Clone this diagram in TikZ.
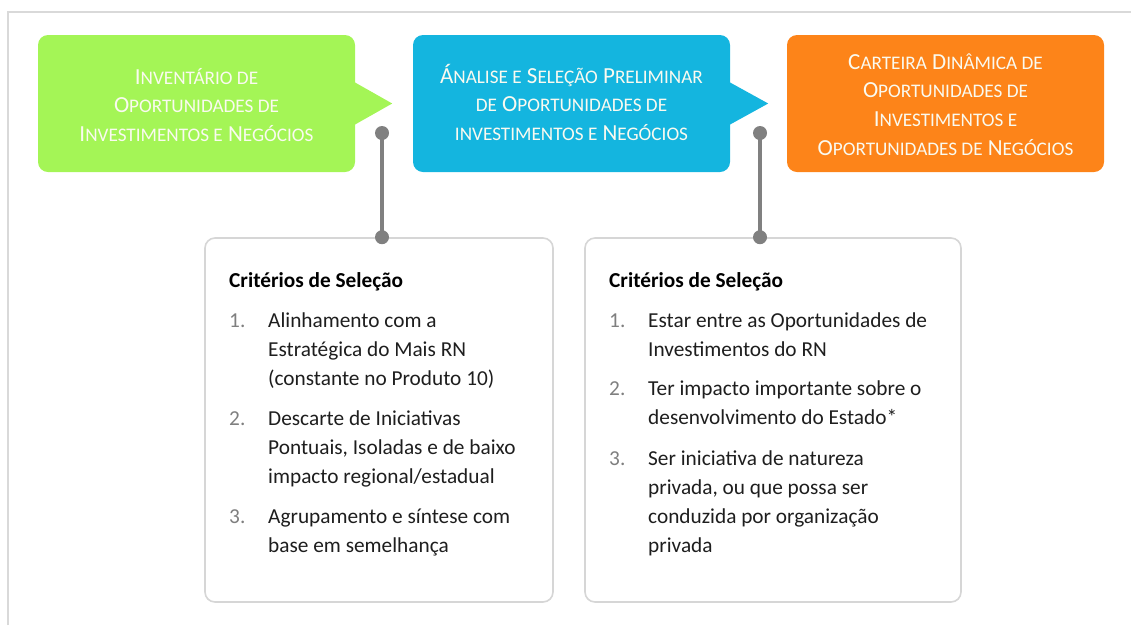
\documentclass[tikz,border=0pt]{standalone}
\usepackage{fontspec}
\setmainfont{Carlito}
\usetikzlibrary{calc}
\definecolor{cgreen}{RGB}{164,245,86}
\definecolor{cblue}{RGB}{20,181,223}
\definecolor{corange}{RGB}{253,132,25}
\definecolor{cframe}{RGB}{217,217,217}
\definecolor{cborder}{RGB}{214,214,214}
\definecolor{cdot}{RGB}{128,128,128}
\definecolor{cnum}{RGB}{127,127,127}
\definecolor{ctext}{RGB}{30,30,30}
\definecolor{ctop}{RGB}{250,250,240}
\newcommand\Sm[1]{{\fontsize{19.2}{19.2}\selectfont\MakeUppercase{#1}}}
\newcommand\Lc[1]{\begin{tabular}[t]{@{}c@{}}#1\end{tabular}}
\newcommand\Ll[1]{\begin{tabular}[t]{@{}l@{}}#1\end{tabular}}
\tikzset{
  topbox/.style={rectangle, rounded corners=10pt, minimum width=317pt, minimum height=137pt, inner sep=0pt},
  toptext/.style={anchor=base, inner sep=0pt, text=ctop, font=\fontsize{23}{28.8}\selectfont},
  critbox/.style={rectangle, rounded corners=10pt, draw=cborder, line width=1.6pt, fill=white, inner sep=0pt},
  head/.style={anchor=base west, inner sep=0pt, text=black, font=\bfseries\fontsize{21.3}{29}\selectfont},
  num/.style={anchor=base west, inner sep=0pt, text=cnum, font=\fontsize{21.3}{29}\selectfont},
  itm/.style={anchor=base west, inner sep=0pt, text=ctext, font=\fontsize{21.3}{29}\selectfont},
  dotc/.style={circle, fill=cdot, inner sep=0pt, minimum size=14pt},
  conn/.style={draw=cdot, line width=3.5pt}
}
\begin{document}
\begin{tikzpicture}[x=1pt,y=-1pt]
\useasboundingbox (0,0) rectangle (1131,625);
\draw[cframe, line width=2pt] (8,625) -- (8,12) -- (1131,12);

% top boxes
\node[topbox, fill=cgreen] (inv) at (196.5,103.5) {};
\fill[cgreen] ($(inv.east)+(-1,-21.5)$) -- ($(inv.east)+(37,0)$) -- ($(inv.east)+(-1,21.5)$) -- cycle;
\node[toptext] (invt) at (196.5,84) {\Lc{I\Sm{nventário de}\\O\Sm{portunidades de}\\I\Sm{nvestimentos e} N\Sm{egócios}}};

\node[topbox, fill=cblue] (ana) at (571.5,103.5) {};
\fill[cblue] ($(ana.east)+(-1,-21.5)$) -- ($(ana.east)+(38,0)$) -- ($(ana.east)+(-1,21.5)$) -- cycle;
\node[toptext] (anat) at (571.5,83) {\Lc{Á\Sm{nalise e} S\Sm{eleção} P\Sm{reliminar}\\\Sm{de} O\Sm{portunidades de}\\\Sm{investimentos e} N\Sm{egócios}}};

\node[topbox, fill=corange] (cart) at (945.5,103.5) {};
\node[toptext] (cartt) at (945.5,69) {\Lc{C\Sm{arteira} D\Sm{inâmica de}\\O\Sm{portunidades de}\\I\Sm{nvestimentos e}\\O\Sm{portunidades de} N\Sm{egócios}}};

% criteria boxes
\node[critbox, minimum width=348pt, minimum height=364pt] (crit1) at (379,420) {};
\node[critbox, minimum width=376pt, minimum height=364pt] (crit2) at (773,420) {};

% connectors
\coordinate (c1) at (382,133);
\coordinate (c2) at (760,133);
\coordinate (e1) at (crit1.north -| c1);
\coordinate (e2) at (crit2.north -| c2);
\draw[conn] (c1) -- (e1);
\draw[conn] (c2) -- (e2);
\node[dotc] (dt1) at (c1) {};
\node[dotc] (db1) at (e1) {};
\node[dotc] (dt2) at (c2) {};
\node[dotc] (db2) at (e2) {};

% box 1 text
\node[head] (h1) at (229,287) {Critérios de Seleção};
\node[num] (n11) at (229,327) {1.};
\node[itm] (t11) at (268,327) {\Ll{Alinhamento com a\\Estratégica do Mais RN\\(constante no Produto 10)}};
\node[num] (n12) at (229,425) {2.};
\node[itm] (t12) at (268,425) {\Ll{Descarte de Iniciativas\\Pontuais, Isoladas e de baixo\\impacto regional/estadual}};
\node[num] (n13) at (229,523) {3.};
\node[itm] (t13) at (268,523) {\Ll{Agrupamento e síntese com\\base em semelhança}};

% box 2 text
\node[head] (h2) at (609,287) {Critérios de Seleção};
\node[num] (n21) at (609,327) {1.};
\node[itm] (t21) at (648,327) {\Ll{Estar entre as Oportunidades de\\Investimentos do RN}};
\node[num] (n22) at (609,395) {2.};
\node[itm] (t22) at (648,395) {\Ll{Ter impacto importante sobre o\\desenvolvimento do Estado*}};
\node[num] (n23) at (609,465) {3.};
\node[itm] (t23) at (648,465) {\Ll{Ser iniciativa de natureza\\privada, ou que possa ser\\conduzida por organização\\privada}};
\end{tikzpicture}
\end{document}
